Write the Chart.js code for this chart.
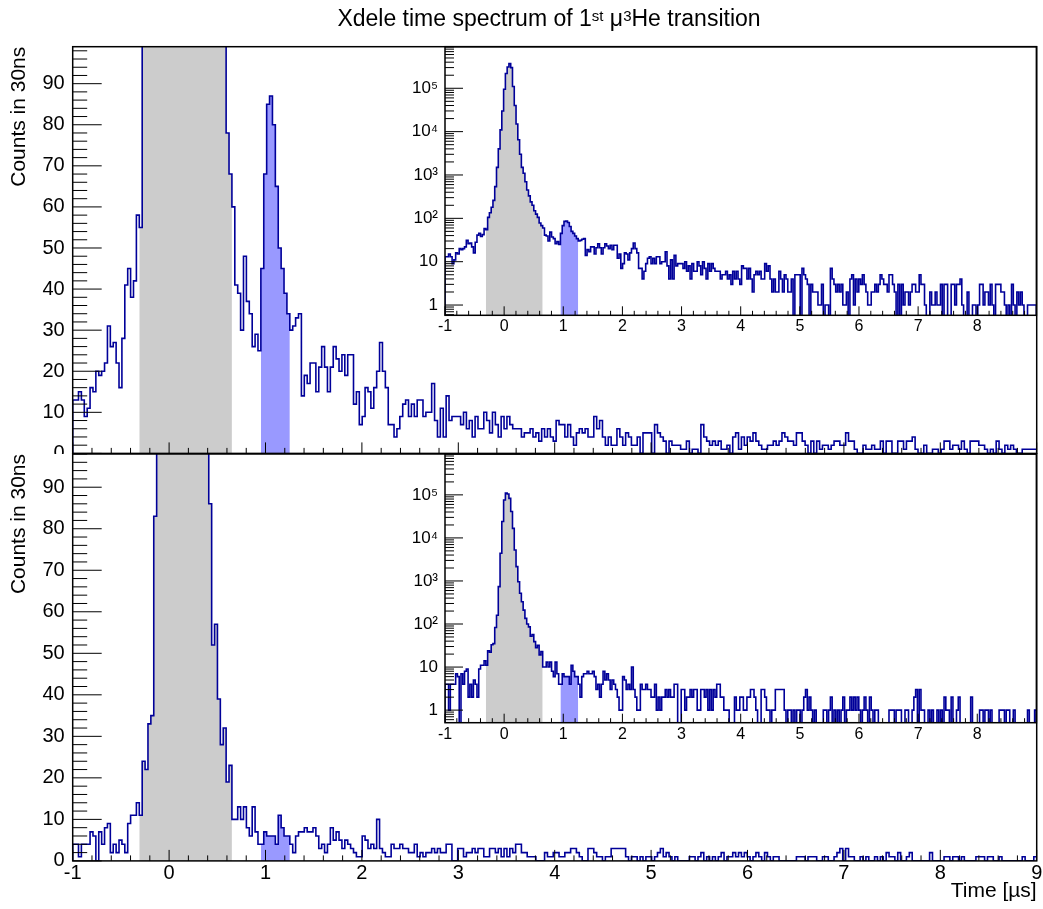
<!DOCTYPE html>
<html><head><meta charset="utf-8">
<script src="https://cdn.jsdelivr.net/npm/chart.js@4.4.1/dist/chart.umd.min.js"></script>
<style>
html,body{margin:0;padding:0;background:#fff;}
#wrap{position:relative;width:1043px;height:909px;overflow:hidden;background:#fff;font-family:"Liberation Sans",Arial,sans-serif;}
canvas{position:absolute;}
#title{position:absolute;top:5px;left:549px;transform:translateX(-50%);white-space:nowrap;font-size:23px;line-height:27px;color:#000;z-index:10;}
#title sup{font-size:15px;vertical-align:top;position:relative;top:-3px;}
</style></head>
<body><div id="wrap">
<canvas id="topMain" width="1043" height="454" style="left:0;top:0;width:1043px;height:454px"></canvas>
<canvas id="botMain" width="1043" height="457" style="left:0;top:452px;width:1043px;height:457px"></canvas>
<canvas id="topInset" width="648" height="345" style="left:395px;top:0;width:648px;height:345px"></canvas>
<canvas id="botInset" width="648" height="300" style="left:395px;top:450px;width:648px;height:300px"></canvas>
<div id="title">Xdele time spectrum of 1<sup>st</sup> μ<sup>3</sup>He transition</div>
</div>
<script>
// ---------------- data ----------------
const xMin = -1, xMax = 9, nBins = 333;           // 30 ns bins
const grayBins = [23, 54];                         // filled grey window
const blueBins = [65, 74];                         // filled blue window

const topCounts = [
13,13,15,13,9,11,16,15,20,19,20,22,31,26,27,22,16,28,41,45,38,42,58,55,
105,135,180,260,540,1500,4000,11000,30000,95000,220000,310000,370000,300000,110000,40000,15000,6500,3000,1500,1100,700,450,330,240,200,150,125,105,78,68,
60,41,39,30,48,37,34,26,29,25,
45,68,85,87,80,65,50,45,39,34,30,31,33,34,
14,19,17,22,22,15,21,26,21,15,21,26,23,20,24,19,24,24,12,15,7,9,16,15,11,16,20,27,20,16,7,7,4,6,9,12,13,9,12,9,13,13,9,10,10,
17,8,4,11,4,14,8,9,9,9,7,10,6,8,4,9,6,6,10,8,5,10,7,4,9,6,9,7,6,6,6,4,5,5,6,4,5,3,6,4,6,4,3,8,
7,7,4,7,4,2,5,6,5,6,4,4,9,6,8,4,2,4,2,2,6,4,2,5,4,2,2,4,0,5,5,5,0,7,5,4,3,0,3,2,2,2,1,1,3,0,1,1,0,7,4,3,2,3,2,3,1,1,2,0,4,5,1,
4,2,4,3,5,3,2,1,1,2,2,3,2,3,5,4,3,3,2,5,5,3,2,0,3,0,3,1,2,2,1,2,3,3,2,2,5,3,3,1,0,0,2,1,1,2,1,1,3,0,3,3,0,0,3,3,1,3,3,4,1,0,0,2,0,0,1,1,0,1,3,3,1,2,2,1,3,1,0,3,3,3,2,2,1,0,1,0,3,1,0,2,1,2,1,0,0,1,1,1,1,1
];

const bottomCounts = [
4,4,1,4,4,4,7,6,0,7,4,8,9,2,4,2,5,4,2,9,11,11,14,
11,24,22,33,35,83,160,740,4400,24000,76000,110000,105000,83000,41000,16700,5250,2150,960,520,330,210,135,100,86,52,57,39,28,32,19,23,
10,10,13,10,13,8,6,13,7,4,4,7,6,6,6,4,11,8,6,6,4,2,6,7,7,8,7,7,8,6,3,4,2,4,8,5,7,5,3,5,4,3,2,1,1,6,5,3,4,3,10,3,2,1,1,4,3,3,4,3,3,2,2,4,1,2,1,2,2,
3,2,3,2,2,4,4,0,0,3,3,1,2,2,3,2,3,3,1,1,3,3,2,3,1,3,1,3,2,4,4,2,2,1,1,1,0,0,0,2,1,1,2,2,1,1,2,2,3,3,2,1,0,0,3,3,2,1,1,0,1,1,3,3,3,3,3,1,0,1,1,0,1,0,1,1,0,1,2,3,1,2,1,0,1,0,0,0,0,1,1,0,1,2,0,1,0,1,0,1,2,0,1,
1,2,1,2,1,2,1,0,1,2,1,0,2,1,0,1,1,0,0,0,0,0,0,1,1,1,0,1,1,1,0,0,1,1,0,0,1,2,3,0,3,1,1,0,0,1,0,1,0,0,1,0,1,0,2,1,1,0,2,0,0,1,2,0,0,0,0,0,0,2,0,0,0,0,1,1,0,1,1,0,1,0,0,0,0,1,1,1,0,1,1,0,0,1,0,0,0,0,0,0,0,1,0,0,0,1
];

const mainXTicks = [-1,0,1,2,3,4,5,6,7,8,9];
const insetXTicks = [-1,0,1,2,3,4,5,6,7,8];
const mainYTicks = [0,10,20,30,40,50,60,70,80,90];
const logYTicks = [1,10,100,1000,10000,100000];
const logYLabels = ['1','10','10²','10³','10⁴','10⁵'];
const yTitleText = 'Counts in 30ns';
const xTitleText = 'Time [µs]';

// ---------------- helpers ----------------
const FONT = '"Liberation Sans", Arial, sans-serif';
const LINE = '#000099', GRAY = '#cccccc', BLUE = '#9999ff';
const edge = i => xMin + i * (xMax - xMin) / nBins;

function stepPoints(counts, i0, i1, close, floor) {
  const f = v => (floor !== undefined && v <= 0) ? floor : v;
  const pts = [];
  if (close) pts.push({x: edge(i0), y: f(0)});
  for (let i = i0; i <= i1; i++) pts.push({x: edge(i), y: f(counts[i])});
  pts.push({x: edge(i1 + 1), y: f(counts[i1])});
  if (close) pts.push({x: edge(i1 + 1), y: f(0)});
  return pts;
}
function minorLinear(a, b, step, majors) {
  const out = [];
  for (let k = 0; a + k * step <= b + 1e-9; k++) {
    const v = Math.round((a + k * step) * 1000) / 1000;
    if (!majors.some(m => Math.abs(m - v) < 1e-6)) out.push(v);
  }
  return out;
}
function minorLog(min, max) {
  const out = [];
  for (let d = Math.floor(Math.log10(min)); d <= Math.ceil(Math.log10(max)); d++) {
    for (let k = 2; k <= 9; k++) { const v = k * Math.pow(10, d); if (v >= min && v <= max) out.push(v); }
  }
  return out;
}

const rootAxes = {
  id: 'rootAxes',
  afterDraw(chart, _a, o) {
    const {ctx, chartArea: a} = chart;
    const xs = chart.scales.x, ys = chart.scales.y;
    ctx.save();
    ctx.strokeStyle = '#000';
    ctx.lineWidth = 1;
    ctx.beginPath();
    const vx = (list, len) => list.forEach(v => { const p = xs.getPixelForValue(v); ctx.moveTo(p, a.bottom); ctx.lineTo(p, a.bottom - len); });
    const vy = (list, len) => list.forEach(v => { const p = ys.getPixelForValue(v); ctx.moveTo(a.left, p); ctx.lineTo(a.left + len, p); });
    vx(o.xMajor, o.xMajorLen); vx(o.xMinor, o.xMinorLen);
    vy(o.yMajor, o.yMajorLen); vy(o.yMinor, o.yMinorLen);
    ctx.stroke();
    ctx.lineWidth = o.frameWidth;
    ctx.strokeRect(a.left, a.top, a.right - a.left, a.bottom - a.top);
    ctx.restore();
  }
};

function makeChart(id, counts, c) {
  const log = c.log;
  const floor = log ? c.yMin * 0.2 : undefined;
  const datasets = [
    {data: stepPoints(counts, 0, nBins - 1, true, floor), borderColor: LINE, borderWidth: c.lw, stepped: true, pointRadius: 0, fill: false},
    {data: stepPoints(counts, grayBins[0], grayBins[1], false, floor), borderWidth: 0, borderColor: 'rgba(0,0,0,0)', backgroundColor: GRAY, stepped: true, pointRadius: 0, fill: 'start'},
    {data: stepPoints(counts, blueBins[0], blueBins[1], false, floor), borderWidth: 0, borderColor: 'rgba(0,0,0,0)', backgroundColor: BLUE, stepped: true, pointRadius: 0, fill: 'start'}
  ];
  const xMajor = mainXTicks;
  return new Chart(document.getElementById(id), {
    type: 'line',
    data: {datasets},
    plugins: [rootAxes],
    options: {
      responsive: false, animation: false, devicePixelRatio: 1, parsing: false, normalized: true,
      layout: {padding: {left: 0, right: c.padR, top: c.padT, bottom: 0}},
      plugins: {
        legend: {display: false}, tooltip: {enabled: false}, title: {display: false},
        rootAxes: {
          xMajor: xMajor, xMinor: minorLinear(xMin, xMax, 0.2, xMajor), xMajorLen: c.xMajLen, xMinorLen: c.xMinLen,
          yMajor: log ? logYTicks : mainYTicks,
          yMinor: log ? minorLog(c.yMin, c.yMax) : minorLinear(0, c.yMax, 2, mainYTicks),
          yMajorLen: c.yMajLen, yMinorLen: c.yMinLen, frameWidth: 1.5
        }
      },
      scales: {
        x: {
          type: 'linear', min: xMin, max: xMax,
          afterBuildTicks: s => { s.ticks = c.xTicks.map(v => ({value: v})); },
          afterFit: s => { s.height = c.xH; s.paddingLeft = 0; s.paddingRight = 0; },
          grid: {display: false, drawTicks: false}, border: {display: false},
          ticks: {display: c.xLabels, autoSkip: false, maxRotation: 0, minRotation: 0, padding: c.xPad, color: '#000', font: {family: FONT, size: c.fs}, callback: v => String(v)},
          title: {display: !!c.xTitle, text: c.xTitle || '', align: 'end', color: '#000', font: {family: FONT, size: c.tfs}, padding: {top: 0, bottom: c.xTitlePad}}
        },
        y: {
          type: log ? 'logarithmic' : 'linear', min: c.yMin, max: c.yMax,
          afterBuildTicks: s => { s.ticks = (log ? logYTicks : mainYTicks).map(v => ({value: v})); },
          afterFit: s => { s.width = c.yW; s.paddingTop = 0; s.paddingBottom = 0; },
          grid: {display: false, drawTicks: false}, border: {display: false},
          ticks: {autoSkip: false, padding: c.yPad, color: '#000', font: {family: FONT, size: c.yfs || c.fs},
                  callback: v => log ? logYLabels[logYTicks.indexOf(v)] : String(v)},
          title: {display: !!c.yTitle, text: c.yTitle || '', align: 'end', color: '#000', font: {family: FONT, size: c.tfs}, padding: {top: c.yTitlePad, bottom: 0}}
        }
      }
    }
  });
}

// main panels
makeChart('topMain', topCounts, {log: false, yMin: 0, yMax: 99, padR: 6.3, padT: 46.7, yW: 72.7, xH: 0.6,
  xTicks: mainXTicks, xLabels: false, fs: 20, tfs: 21, xPad: 2, yPad: 8, yTitle: yTitleText, yTitlePad: 7,
  xMajLen: 11, xMinLen: 5.5, yMajLen: 29, yMinLen: 14.5, lw: 1.6});
makeChart('botMain', bottomCounts, {log: false, yMin: 0, yMax: 98, padR: 6.3, padT: 2, yW: 72.7, xH: 48.1,
  xTicks: mainXTicks, xLabels: true, fs: 20, tfs: 21, xPad: 1, yPad: 8, yTitle: yTitleText, yTitlePad: 7,
  xTitle: xTitleText, xTitlePad: 5,
  xMajLen: 11, xMinLen: 5.5, yMajLen: 29, yMinLen: 14.5, lw: 1.6});
// log insets
makeChart('topInset', topCounts, {log: true, yMin: 0.58, yMax: 9.1e5, padR: 6.6, padT: 46.7, yW: 50, xH: 29.7,
  xTicks: insetXTicks, xLabels: true, fs: 16, yfs: 17, tfs: 16, xPad: 2, yPad: 7,
  xMajLen: 9, xMinLen: 4.5, yMajLen: 18, yMinLen: 9, lw: 1.6});
makeChart('botInset', bottomCounts, {log: true, yMin: 0.51, yMax: 8.9e5, padR: 6.6, padT: 4, yW: 50, xH: 27.3,
  xTicks: insetXTicks, xLabels: true, fs: 16, yfs: 17, tfs: 16, xPad: 2, yPad: 7,
  xMajLen: 9, xMinLen: 4.5, yMajLen: 18, yMinLen: 9, lw: 1.6});
</script>
</body></html>
